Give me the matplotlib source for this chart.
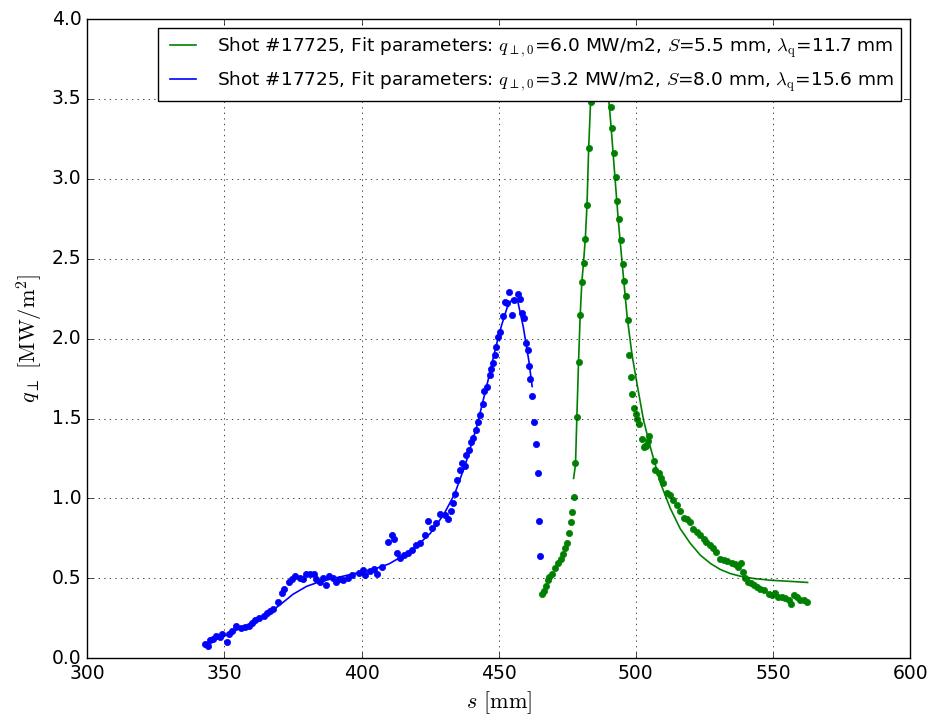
import numpy as np
import matplotlib
matplotlib.use('Agg')
import matplotlib.pyplot as plt

plt.style.use('classic')

# Measured heat flux, inner side (blue) and outer side (green)
s_in = [343.0, 344.2, 344.8, 346.0, 347.0, 348.5, 349.3, 350.9, 351.5, 352.7,
        354.3, 356.0, 357.6, 358.8, 360.0, 361.2, 362.8, 364.3, 365.5, 366.7,
        367.9, 369.7, 371.0, 371.8, 373.4, 374.6, 375.8, 377.4, 378.6, 379.8,
        381.3, 382.5, 383.5, 384.9, 385.9, 387.1, 388.3, 389.6, 390.8, 392.2,
        393.4, 394.9, 396.5, 398.9, 400.7, 401.3, 403.2, 404.4, 405.6, 407.4,
        409.8, 411.1, 411.9, 412.9, 414.1, 415.6, 416.8, 418.4, 419.9, 421.4,
        423.2, 424.2, 425.7, 427.2, 428.7, 430.5, 431.7, 432.6, 433.3, 434.2,
        434.8, 436.0, 436.8, 437.8, 438.0, 439.0, 440.0, 440.8, 441.8, 442.4,
        443.3, 444.1, 444.8, 445.9, 446.7, 447.3, 448.1, 448.5, 449.0, 449.7,
        450.6, 451.4, 452.4, 453.0, 453.8, 454.8, 455.4, 456.9, 457.6, 458.5,
        459.3, 459.9, 460.6, 461.1, 461.5, 462.1, 463.0, 463.6, 464.2, 464.7,
        464.9]
q_in = [0.092, 0.075, 0.113, 0.123, 0.138, 0.134, 0.150, 0.102, 0.150, 0.171,
        0.200, 0.186, 0.196, 0.200, 0.221, 0.242, 0.252, 0.263, 0.280, 0.294,
        0.311, 0.352, 0.409, 0.430, 0.478, 0.493, 0.513, 0.505, 0.495, 0.524,
        0.530, 0.526, 0.495, 0.478, 0.503, 0.457, 0.515, 0.499, 0.478, 0.493,
        0.488, 0.499, 0.520, 0.534, 0.551, 0.520, 0.546, 0.561, 0.526, 0.572,
        0.728, 0.770, 0.743, 0.659, 0.630, 0.645, 0.659, 0.676, 0.707, 0.718,
        0.770, 0.859, 0.812, 0.843, 0.901, 0.895, 0.868, 0.920, 0.972, 1.027,
        1.114, 1.18, 1.22, 1.20, 1.27, 1.30, 1.35, 1.38, 1.43, 1.48,
        1.52, 1.59, 1.67, 1.70, 1.77, 1.81, 1.85, 1.90, 1.95, 2.01,
        2.04, 2.14, 2.23, 2.22, 2.29, 2.15, 2.24, 2.28, 2.25, 2.16,
        2.13, 1.97, 1.93, 1.83, 1.75, 1.64, 1.48, 1.34, 1.16, 0.86,
        0.64]

s_out = [465.8, 466.5, 467.2, 467.8, 468.5, 469.3, 470.5, 471.7, 472.6, 473.6,
         474.3, 475.0, 475.6, 476.2, 476.8, 477.3, 478.0, 478.7, 479.2, 479.8,
         480.5, 481.0, 481.6, 482.2, 482.8, 483.5,
         490.8, 491.4, 492.0, 492.8, 493.3, 493.9, 494.5, 495.2, 495.8, 496.4,
         497.0, 497.5, 498.1, 498.7, 499.5, 499.9, 500.5, 501.1, 502.1, 502.9,
         503.3, 503.7, 504.3, 504.9, 506.5, 507.1, 508.3, 509.1, 509.9, 511.3,
         512.5, 513.7, 515.0, 516.2, 517.4, 518.6, 519.8, 521.0, 522.3, 523.5,
         524.7, 525.7, 526.9, 528.3, 529.3, 530.5, 532.0, 533.4, 535.0, 536.2,
         537.1, 538.3, 539.0, 539.9, 540.9, 542.0, 542.9, 544.1, 545.4, 546.6,
         548.4, 549.6, 550.8, 552.0, 553.3, 554.5, 555.7, 556.7, 557.5, 558.7,
         559.9, 561.2, 562.4]
q_out = [0.40, 0.42, 0.45, 0.49, 0.51, 0.53, 0.567, 0.595, 0.623, 0.653,
         0.688, 0.724, 0.782, 0.853, 0.912, 1.011, 1.220, 1.511, 1.856, 2.147,
         2.356, 2.470, 2.625, 2.836, 3.192, 3.478,
         3.45, 3.317, 3.159, 3.013, 2.858, 2.746, 2.614, 2.466, 2.362, 2.269,
         2.114, 1.899, 1.759, 1.651, 1.565, 1.526, 1.500, 1.463, 1.371, 1.321,
         1.33, 1.328, 1.360, 1.39, 1.235, 1.177, 1.160, 1.125, 1.098, 1.031,
         1.020, 0.993, 0.958, 0.920, 0.878, 0.874, 0.853, 0.806, 0.791, 0.770,
         0.749, 0.728, 0.707, 0.687, 0.666, 0.618, 0.613, 0.607, 0.597, 0.588,
         0.568, 0.593, 0.540, 0.505, 0.478, 0.468, 0.457, 0.446, 0.436, 0.426,
         0.401, 0.394, 0.405, 0.384, 0.384, 0.374, 0.363, 0.342, 0.394, 0.384,
         0.367, 0.363, 0.352]

# Fitted profiles
s_fit_in = [343, 350, 355, 360, 365, 370, 375, 380, 385, 390, 395, 400, 405,
            410, 415, 420, 425, 430, 434, 438, 442, 446, 449, 451, 453, 455,
            457, 459, 461, 462.2]
q_fit_in = [0.09, 0.14, 0.18, 0.22, 0.27, 0.33, 0.40, 0.45, 0.48, 0.50, 0.52,
            0.54, 0.56, 0.59, 0.64, 0.70, 0.78, 0.90, 1.03, 1.22, 1.45, 1.73,
            1.95, 2.08, 2.19, 2.25, 2.23, 2.07, 1.86, 1.70]

s_fit_out = [477.3, 478.0, 478.5, 479.1, 479.7, 480.3, 480.9, 481.6, 482.2,
             482.8, 483.5, 484.3, 485.5, 486.5, 487.5, 488.8, 490.0,
             491.0, 492.2, 493.7, 494.6, 496.8, 498.6, 500.4, 502.8, 505.3,
             508.9, 512.5, 516.2, 519.8, 523.5, 527.2, 530.8, 534.4, 538.1,
             542.9, 549.0, 555.1, 562.6]
q_fit_out = [1.125, 1.21, 1.51, 1.85, 2.14, 2.35, 2.47, 2.63, 2.84,
             3.19, 3.48, 3.70, 3.88, 3.92, 3.86, 3.68, 3.52,
             3.32, 3.05, 2.72, 2.55, 2.14, 1.90, 1.72, 1.49, 1.32,
             1.10, 0.94, 0.81, 0.72, 0.645, 0.593, 0.555, 0.530, 0.513,
             0.499, 0.488, 0.482, 0.474]

lbl_out = (r'Shot #17725, Fit parameters: $q_{\perp,0}$=6.0 MW/m2, '
           r'$S$=5.5 mm, $\lambda_{\mathrm{q}}$=11.7 mm')
lbl_in = (r'Shot #17725, Fit parameters: $q_{\perp,0}$=3.2 MW/m2, '
          r'$S$=8.0 mm, $\lambda_{\mathrm{q}}$=15.6 mm')

fig = plt.figure(figsize=(9.33, 7.17), dpi=100)
ax = fig.add_subplot(111)
fig.subplots_adjust(left=0.0935, right=0.9755, bottom=0.082, top=0.9735)

ax.plot(s_in, q_in, 'o', color='b', markeredgecolor='b', markersize=4.5)
ax.plot(s_out, q_out, 'o', color='g', markeredgecolor='g', markersize=4.5)
l_out, = ax.plot(s_fit_out, q_fit_out, '-', color='g', lw=1.2, label=lbl_out)
l_in, = ax.plot(s_fit_in, q_fit_in, '-', color='b', lw=1.2, label=lbl_in)

ax.set_xlim(300, 600)
ax.set_ylim(0, 4)
ax.set_xlabel(r'$s$ $[\mathrm{mm}]$', fontsize=16)
ax.set_ylabel(r'$q_{\perp}$ $[\mathrm{MW/m^2}]$', fontsize=16)
ax.tick_params(labelsize=13.5)
ax.grid(True)
ax.legend(handles=[l_out, l_in], loc='upper right', fontsize=13.3)

fig.savefig('out.png', dpi=100, facecolor='white')
